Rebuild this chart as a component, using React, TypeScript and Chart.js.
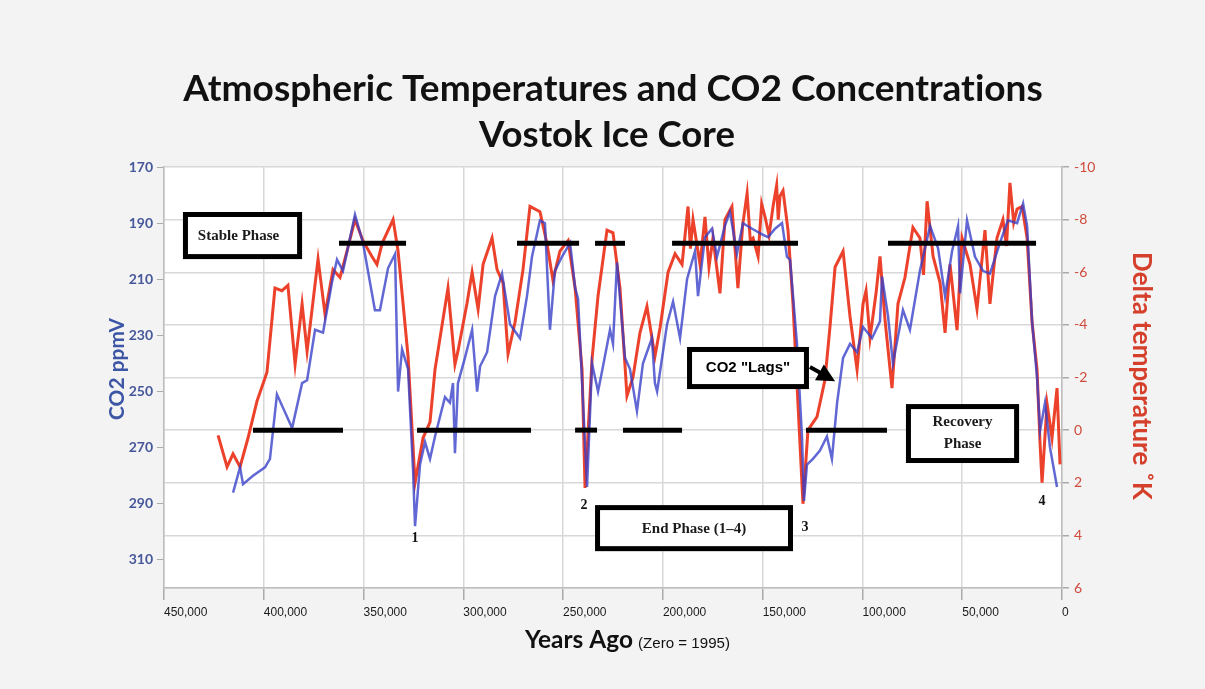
import React, { useEffect, useRef } from 'react';
import { Chart, registerables } from 'chart.js';

Chart.register(...registerables);

// ---------- data ----------
const yearTicks = [450000, 400000, 350000, 300000, 250000, 200000, 150000, 100000, 50000, 0];
const co2Ticks = [170, 190, 210, 230, 250, 270, 290, 310];
const tempTicks = [-10, -8, -6, -4, -2, 0, 2, 4, 6];

// [years ago, CO2 ppmV]
const co2Series: [number, number][] = [
  [415400, 286], [411900, 277], [410400, 283], [405400, 280], [399400, 277], [396900, 274], [393400, 251],
  [385800, 263], [380800, 247], [378300, 246], [374300, 228], [370300, 229], [365800, 211], [363300, 203],
  [360300, 207], [354300, 187], [350300, 197], [344300, 221], [341800, 221], [337700, 206], [334200, 201],
  [333200, 235], [332700, 250], [330700, 235], [327700, 242], [325200, 278], [324200, 298], [321700, 276],
  [319200, 268], [316700, 274], [314200, 266], [309200, 252], [306700, 254], [305200, 247], [304200, 272],
  [302700, 247], [299200, 238], [295600, 228], [293100, 250], [291600, 241], [288100, 236], [284100, 216],
  [280600, 208], [276600, 226], [271600, 231], [268100, 216], [265600, 202], [261600, 189], [259100, 190],
  [256600, 228], [254100, 207], [250600, 202], [246500, 197], [244000, 213], [242500, 217], [240000, 254],
  [238000, 284], [235500, 240], [232500, 250], [230000, 241], [226500, 228], [225000, 233], [223000, 204],
  [219000, 238], [216500, 242], [213000, 257], [210000, 240], [205500, 231], [204000, 247], [202900, 250],
  [197900, 226], [194900, 218], [191400, 231], [187900, 210], [183900, 200], [182400, 216], [178900, 195],
  [175400, 192], [172900, 202], [168900, 191], [166400, 186], [162900, 201], [159900, 190], [155300, 192],
  [150300, 194], [147300, 195], [143800, 192], [140300, 190], [137800, 202], [136300, 203], [132800, 233],
  [130300, 266], [129300, 289], [127800, 276], [124800, 274], [121300, 271], [117800, 266], [115300, 274],
  [112700, 254], [109700, 238], [106200, 233], [102700, 236], [99700, 227], [95200, 231], [91200, 225],
  [90200, 209], [87200, 223], [84700, 240], [79700, 221], [76200, 228], [71200, 207], [66100, 191],
  [62100, 199], [58600, 216], [55100, 200], [52100, 191], [51100, 215], [47600, 189], [43600, 202],
  [39600, 207], [36100, 208], [31100, 197], [27100, 189], [22500, 190], [19500, 183], [17500, 191],
  [15000, 225], [12500, 245], [11000, 264], [8500, 254], [6000, 270], [2500, 284],
];

// [years ago, delta temperature K]
const tempSeries: [number, number][] = [
  [422900, 0.2], [418400, 1.4], [415400, 0.9], [411900, 1.4], [407900, 0.3], [403400, -1.1], [398400, -2.2],
  [394400, -5.4], [390900, -5.3], [387900, -5.5], [384300, -2.5], [380800, -4.8], [378300, -3.0], [372800, -6.5],
  [369300, -4.4], [365300, -6.1], [361800, -5.8], [358300, -6.8], [354300, -8.0], [350300, -7.2], [345800, -6.6],
  [343300, -6.3], [340700, -7.1], [335200, -8.0], [332700, -6.8], [327700, -2.8], [324200, 2.0], [320200, 0.3],
  [316700, -0.3], [314200, -2.3], [307700, -5.4], [304200, -2.5], [302700, -3.0], [298200, -4.8], [295600, -6.0],
  [292600, -4.6], [290100, -6.3], [285600, -7.3], [283100, -6.1], [280100, -5.6], [277600, -2.9], [274100, -4.1],
  [270100, -6.1], [266600, -8.5], [261600, -8.3], [258100, -7.1], [255100, -5.7], [251600, -6.8], [247500, -7.2],
  [244000, -5.4], [240500, -2.3], [239000, 2.2], [235500, -2.7], [232500, -5.1], [228000, -7.6], [225000, -7.5],
  [221500, -5.4], [218000, -1.3], [215000, -2.0], [211500, -3.7], [208000, -4.7], [204000, -2.8], [201400, -3.9],
  [197400, -6.0], [193900, -6.7], [190400, -6.3], [187400, -8.5], [186200, -6.9], [184900, -8.0], [181400, -6.3],
  [178900, -8.1], [176900, -6.2], [174900, -7.3], [171400, -5.2], [168900, -8.0], [165400, -8.5], [162400, -5.4],
  [160000, -7.8], [157800, -9.0], [156200, -7.2], [154800, -7.3], [152300, -6.6], [150500, -8.6], [148800, -8.1],
  [146800, -7.4], [144800, -8.5], [143000, -9.3], [142200, -8.0], [141300, -8.9], [139800, -9.1], [137300, -7.6],
  [134800, -4.8], [132300, -1.0], [129800, 2.8], [127300, 0.0], [122800, -0.5], [118800, -1.9], [116300, -3.9],
  [113700, -6.2], [109700, -6.8], [106200, -4.3], [102700, -2.3], [99700, -4.8], [98200, -5.3], [96200, -3.5],
  [93200, -5.2], [91200, -6.6], [88700, -4.2], [85200, -1.6], [82200, -4.8], [78700, -5.8], [74700, -7.7],
  [71200, -7.3], [69400, -5.9], [67600, -8.7], [64600, -6.6], [61100, -5.6], [58600, -3.7], [56100, -6.3],
  [52600, -3.8], [50100, -7.3], [46100, -6.3], [42600, -4.6], [38600, -7.6], [36100, -4.8], [32600, -7.3],
  [29600, -8.0], [27800, -7.0], [26100, -9.4], [24200, -7.9], [22500, -8.4], [20000, -8.5], [17500, -7.3],
  [15000, -4.1], [12500, -2.3], [11000, 0.5], [10000, 2.0], [7500, -1.0], [5000, 0.3], [2500, -1.6], [1000, 1.3],
];

// phase marker segments [from year, to year] at a temperature level
const stableSpans: [number, number][] = [[362300, 328700], [273100, 242000], [234000, 219000], [195400, 132300], [87200, 13000]];
const stableLevel = -7.1;
const lowSpans: [number, number][] = [[405400, 360300], [323200, 266100], [244000, 233000], [220000, 190400], [128300, 87700]];
const lowLevel = 0;

const endMarks = [
  { label: '1', year: 324200, temp: 4.1 },
  { label: '2', year: 239500, temp: 2.85 },
  { label: '3', year: 128800, temp: 3.7 },
  { label: '4', year: 10000, temp: 2.7 },
];

const titleLine1 = 'Atmospheric Temperatures and CO2 Concentrations';
const titleLine2 = 'Vostok Ice Core';
const leftTitle = 'CO2 ppmV';
const rightTitle = 'Delta temperature ˚K';
const xTitleMain = 'Years Ago';
const xTitleNote = '(Zero = 1995)';

function fitFont(ctx: CanvasRenderingContext2D, text: string, weight: string, family: string, target: number) {
  ctx.font = `${weight} 20px ${family}`;
  const w = ctx.measureText(text).width;
  const size = (20 * target) / w;
  return `${weight} ${size.toFixed(2)}px ${family}`;
}

const decoPlugin = {
  id: 'deco',
  beforeDraw(chart: any) {
    const { ctx, chartArea, width, height } = chart;
    ctx.save();
    ctx.fillStyle = '#f3f3f3';
    ctx.fillRect(0, 0, width, height);
    ctx.fillStyle = '#ffffff';
    ctx.fillRect(chartArea.left, chartArea.top, chartArea.right - chartArea.left, chartArea.bottom - chartArea.top);
    ctx.restore();
  },
  afterDraw(chart: any) {
    const { ctx, scales } = chart;
    const xs = scales.x;
    const yt = scales.yT;
    const px = (v: number) => xs.getPixelForValue(v);
    const py = (v: number) => yt.getPixelForValue(v);
    const sans = "Lato, 'Liberation Sans', sans-serif";
    const serif = "'Liberation Serif', 'DejaVu Serif', serif";

    ctx.save();
    try { (ctx as any).letterSpacing = '0.01px'; } catch (e) { /* ignore */ }
    // titles
    ctx.fillStyle = '#111';
    ctx.textAlign = 'center';
    ctx.textBaseline = 'middle';
    ctx.font = fitFont(ctx, titleLine1, 'bold', sans, 860);
    ctx.fillText(titleLine1, 613, 89);
    ctx.font = fitFont(ctx, titleLine2, 'bold', sans, 256);
    ctx.fillText(titleLine2, 607, 135);

    // x title
    ctx.textAlign = 'left';
    ctx.textBaseline = 'alphabetic';
    ctx.font = fitFont(ctx, xTitleMain, 'bold', sans, 108);
    ctx.fillStyle = '#111';
    ctx.fillText(xTitleMain, 525, 648);
    ctx.font = fitFont(ctx, xTitleNote, 'normal', "'Liberation Sans Narrow', 'Liberation Sans', sans-serif", 92);
    ctx.fillText(xTitleNote, 638, 648);

    // left axis title
    ctx.save();
    ctx.translate(117, 369);
    ctx.rotate(-Math.PI / 2);
    ctx.textAlign = 'center';
    ctx.textBaseline = 'middle';
    ctx.fillStyle = '#3c55a5';
    ctx.font = fitFont(ctx, leftTitle, 'bold', sans, 102);
    ctx.fillText(leftTitle, 0, 0);
    ctx.restore();

    // right axis title
    ctx.save();
    ctx.translate(1141, 376);
    ctx.rotate(Math.PI / 2);
    ctx.textAlign = 'center';
    ctx.textBaseline = 'middle';
    ctx.fillStyle = '#d5402c';
    ctx.font = fitFont(ctx, rightTitle, 'bold', sans, 248);
    ctx.fillText(rightTitle, 0, 0);
    ctx.restore();

    // boxes
    const box = (y1: number, y2: number, t1: number, t2: number) => {
      const x0 = px(y1), x1 = px(y2), yA = py(t1), yB = py(t2);
      ctx.fillStyle = '#ffffff';
      ctx.fillRect(x0, yA, x1 - x0, yB - yA);
      ctx.strokeStyle = '#000';
      ctx.lineWidth = 5;
      ctx.strokeRect(x0 + 2.5, yA + 2.5, x1 - x0 - 5, yB - yA - 5);
      return { cx: (x0 + x1) / 2, cy: (yA + yB) / 2 };
    };
    ctx.textAlign = 'center';
    ctx.textBaseline = 'middle';

    let c = box(440500, 380800, -8.29, -6.5);
    ctx.fillStyle = '#1a1a1a';
    ctx.font = `bold 15px ${serif}`;
    ctx.fillText('Stable Phase', c.cx - 4, c.cy + 1);

    c = box(187900, 126800, -3.16, -1.56);
    ctx.fillStyle = '#000';
    ctx.font = `bold 15px 'Liberation Sans', Arial, sans-serif`;
    ctx.fillText('CO2 "Lags"', c.cx, c.cy);

    c = box(78200, 21500, -0.99, 1.25);
    ctx.fillStyle = '#1a1a1a';
    ctx.font = `bold 15px ${serif}`;
    ctx.fillText('Recovery', c.cx, c.cy - 11);
    ctx.fillText('Phase', c.cx, c.cy + 11);

    c = box(234000, 134800, 2.85, 4.6);
    ctx.fillStyle = '#1a1a1a';
    ctx.font = `bold 15px ${serif}`;
    ctx.fillText('End Phase (1–4)', c.cx, c.cy + 1);

    // arrow
    const ax0 = px(126300), ay0 = py(-2.4), ax1 = px(113700), ay1 = py(-1.86);
    const ang = Math.atan2(ay1 - ay0, ax1 - ax0);
    ctx.strokeStyle = '#000';
    ctx.lineWidth = 4;
    ctx.beginPath();
    ctx.moveTo(ax0, ay0);
    ctx.lineTo(ax1 - 12 * Math.cos(ang), ay1 - 12 * Math.sin(ang));
    ctx.stroke();
    ctx.fillStyle = '#000';
    ctx.beginPath();
    ctx.moveTo(ax1, ay1);
    ctx.lineTo(ax1 - 18 * Math.cos(ang) + 9 * Math.sin(ang), ay1 - 18 * Math.sin(ang) - 9 * Math.cos(ang));
    ctx.lineTo(ax1 - 18 * Math.cos(ang) - 9 * Math.sin(ang), ay1 - 18 * Math.sin(ang) + 9 * Math.cos(ang));
    ctx.closePath();
    ctx.fill();

    // end-phase numbers
    ctx.fillStyle = '#111';
    ctx.font = `bold 14px ${serif}`;
    endMarks.forEach((m) => ctx.fillText(m.label, px(m.year), py(m.temp)));
    ctx.restore();
  },
};

export default function App() {
  const ref = useRef<HTMLCanvasElement | null>(null);
  useEffect(() => {
    document.body.style.margin = '0';
    const canvas = ref.current;
    if (!canvas) return;
    const segs = (spans: [number, number][], level: number) =>
      spans.map(([a, b]) => ({
        type: 'line' as const,
        data: [{ x: a, y: level }, { x: b, y: level }],
        yAxisID: 'yT',
        borderColor: '#000',
        borderWidth: 5,
        borderCapStyle: 'butt' as const,
        pointRadius: 0,
        order: 0,
      }));
    const chart = new Chart(canvas, {
      type: 'line',
      data: {
        datasets: [
          {
            label: 'Temperature',
            data: tempSeries.map(([x, y]) => ({ x, y })),
            yAxisID: 'yT',
            borderColor: 'rgba(235, 55, 32, 0.95)',
            borderWidth: 3,
            pointRadius: 0,
            tension: 0,
            order: 2,
          },
          {
            label: 'CO2',
            data: co2Series.map(([x, y]) => ({ x, y })),
            yAxisID: 'yC',
            borderColor: 'rgba(52, 62, 200, 0.78)',
            borderWidth: 2.5,
            pointRadius: 0,
            tension: 0,
            order: 1,
          },
          ...segs(stableSpans, stableLevel),
          ...segs(lowSpans, lowLevel),
        ],
      },
      options: {
        animation: false,
        responsive: false,
        maintainAspectRatio: false,
        layout: { padding: { top: 167, left: 0, right: 0, bottom: 0 } },
        plugins: { legend: { display: false }, tooltip: { enabled: false }, title: { display: false } },
        scales: {
          x: {
            type: 'linear',
            reverse: true,
            min: 0,
            max: 450000,
            afterBuildTicks: (s: any) => { s.ticks = yearTicks.map((v) => ({ value: v })); },
            afterFit: (s: any) => { s.height = 101; },
            grid: { color: '#d8d8d8', lineWidth: 1.5, tickLength: 12, tickColor: '#aaaaaa' },
            border: { color: '#bdbdbd', width: 1.5 },
            ticks: {
              align: 'start',
              maxRotation: 0,
              autoSkip: false,
              padding: 5,
              color: '#1a1a1a',
              font: { family: "'Liberation Sans Narrow', 'Liberation Sans', sans-serif", size: 12 },
              callback: (v: any) => Number(v).toLocaleString('en-US'),
            },
          },
          yC: {
            type: 'linear',
            position: 'left',
            reverse: true,
            min: 170,
            max: 320,
            afterBuildTicks: (s: any) => { s.ticks = co2Ticks.map((v) => ({ value: v })); },
            afterFit: (s: any) => { s.width = 164; },
            grid: { drawOnChartArea: false, tickLength: 7, color: '#aaaaaa' },
            border: { color: '#bdbdbd', width: 1.5 },
            ticks: { color: '#46589a', padding: 4, font: { family: 'Lato, sans-serif', size: 14, weight: 'bold' } },
          },
          yT: {
            type: 'linear',
            position: 'right',
            reverse: true,
            min: -10,
            max: 6,
            afterBuildTicks: (s: any) => { s.ticks = tempTicks.map((v) => ({ value: v })); },
            afterFit: (s: any) => { s.width = 143; },
            grid: { color: '#d8d8d8', lineWidth: 1.5, tickLength: 7, tickColor: '#aaaaaa' },
            border: { color: '#bdbdbd', width: 1.5 },
            ticks: { color: '#d04a3c', padding: 5, font: { family: 'Lato, sans-serif', size: 14 } },
          },
        },
      },
      plugins: [decoPlugin],
    } as any);
    return () => chart.destroy();
  }, []);
  return (
    <canvas
      ref={ref}
      width={1205}
      height={689}
      style={{ display: 'block', position: 'absolute', left: 0, top: 0, width: 1205, height: 689 }}
    />
  );
}
